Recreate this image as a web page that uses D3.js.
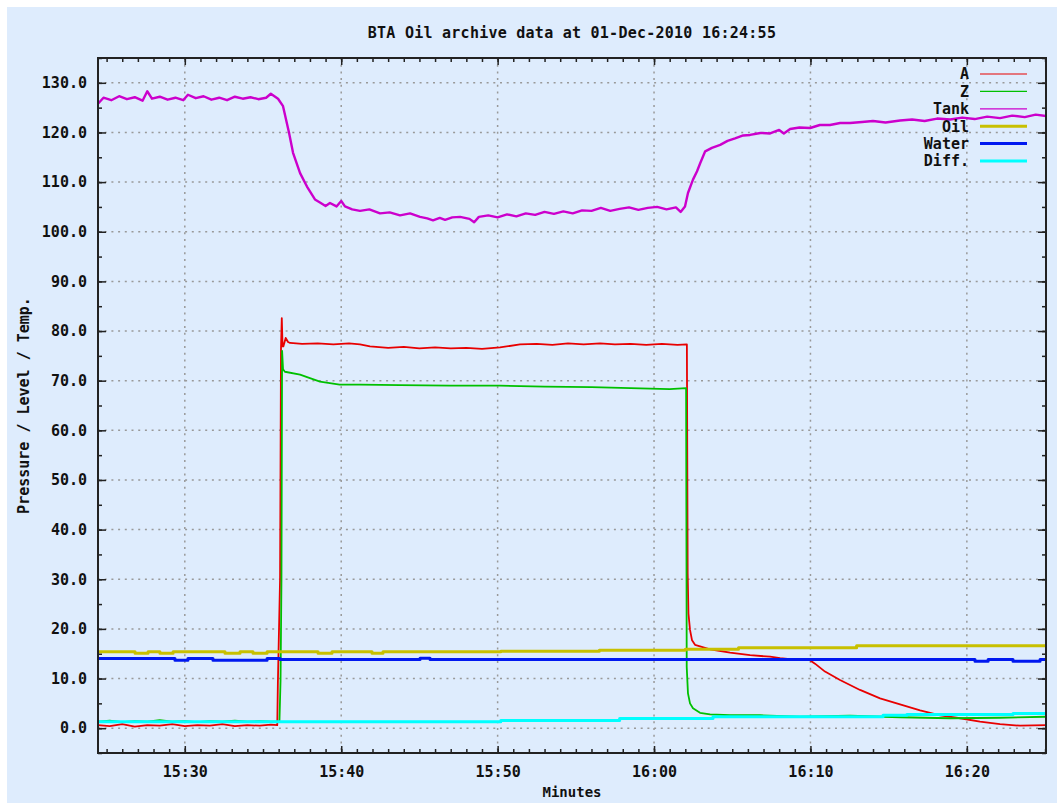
<!DOCTYPE html>
<html>
<head>
<meta charset="utf-8">
<script src="https://cdn.jsdelivr.net/npm/d3@7"></script>
<style>
  body { margin: 0; background: #fff; }
  text { font-family: "DejaVu Sans Mono", monospace; font-weight: bold; font-size: 15px; fill: #111; }
</style>
</head>
<body>
<div id="chart"></div>
<script>
// time is minutes after 15:00 on 01-Dec-2010
const timeRange = [24.45, 85.06]
const yTicks = [0, 10, 20, 30, 40, 50, 60, 70, 80, 90, 100, 110, 120, 130]

const seriesA = [[24.45,0.6],[25.2,0.4],[26.0,0.8],[26.8,0.3],[27.6,0.6],[28.4,0.5],[29.2,0.8],[30.0,0.4],[30.8,0.6],[31.6,0.5],[32.4,0.8],[33.2,0.4],[34.0,0.6],[34.8,0.5],[35.5,0.7],[35.91,0.6],[35.95,9.0],[36.09,30.0],[36.15,76.5],[36.2,82.6],[36.25,76.9],[36.3,76.9],[36.45,78.6],[36.6,77.8],[36.73,77.6],[37.5,77.4],[38.5,77.5],[39.5,77.3],[40.5,77.5],[41.2,77.3],[41.84,76.9],[43.0,76.6],[44.0,76.8],[45.0,76.5],[46.0,76.7],[47.0,76.5],[48.0,76.6],[49.0,76.4],[50.15,76.7],[51.43,77.3],[52.5,77.4],[53.5,77.2],[54.5,77.5],[55.5,77.3],[56.55,77.5],[57.5,77.3],[58.5,77.4],[59.5,77.2],[60.5,77.4],[61.5,77.2],[62.1,77.3],[62.15,31.2],[62.2,23.1],[62.3,19.8],[62.43,17.7],[62.62,16.8],[62.94,16.5],[63.58,15.9],[64.86,15.2],[66.14,14.7],[67.42,14.4],[68.06,14.1],[69.33,13.7],[69.97,13.7],[70.29,13.0],[70.93,11.4],[71.89,9.7],[73.17,7.7],[74.45,6.0],[75.73,4.8],[77.01,3.6],[78.29,2.6],[79.57,2.0],[80.84,1.3],[82.12,0.8],[83.4,0.5],[85.06,0.6]]

const seriesZ = [[24.45,1.3],[25.2,1.5],[26.0,1.2],[26.8,1.4],[27.6,1.3],[28.4,1.6],[29.2,1.3],[30.0,1.4],[30.8,1.2],[31.6,1.4],[32.4,1.3],[33.2,1.5],[34.0,1.3],[34.8,1.4],[35.5,1.3],[36.05,1.3],[36.12,9.5],[36.18,30.0],[36.22,76.0],[36.28,72.3],[36.4,71.8],[37.37,71.2],[38.0,70.5],[38.64,69.8],[39.9,69.2],[41.2,69.2],[43.76,69.1],[46.96,69.0],[50.15,69.0],[53.0,68.8],[56.0,68.7],[58.5,68.5],[61.0,68.3],[62.05,68.5],[62.09,12.3],[62.17,7.0],[62.3,5.0],[62.49,4.0],[62.94,3.1],[63.58,2.8],[64.86,2.6],[66.78,2.6],[69.33,2.3],[72.53,2.5],[75.73,2.2],[78.93,2.0],[82.12,2.1],[85.06,2.3]]

const seriesTank = [[24.45,125.8],[24.8,127.0],[25.3,126.5],[25.8,127.3],[26.3,126.7],[26.8,127.1],[27.3,126.4],[27.6,128.3],[27.9,126.8],[28.4,127.2],[28.9,126.6],[29.4,127.0],[29.9,126.5],[30.2,127.6],[30.7,126.9],[31.2,127.3],[31.7,126.6],[32.2,127.0],[32.7,126.5],[33.2,127.2],[33.7,126.8],[34.2,127.1],[34.7,126.7],[35.2,127.0],[35.5,127.8],[35.96,126.8],[36.28,125.3],[36.66,120.0],[36.92,115.9],[37.37,111.8],[37.81,109.1],[38.32,106.5],[38.64,105.9],[39.0,105.2],[39.28,105.8],[39.7,105.1],[40.0,106.2],[40.24,105.1],[40.7,104.5],[41.2,104.2],[41.8,104.5],[42.48,103.7],[43.1,103.9],[43.76,103.3],[44.4,103.7],[45.04,103.0],[45.5,102.7],[45.87,102.3],[46.3,102.8],[46.64,102.4],[47.1,102.9],[47.6,103.0],[48.2,102.6],[48.5,101.9],[48.8,103.0],[49.4,103.3],[50.0,102.9],[50.6,103.5],[51.2,103.1],[51.8,103.7],[52.4,103.4],[53.0,104.0],[53.6,103.6],[54.2,104.1],[54.8,103.7],[55.4,104.3],[56.0,104.2],[56.6,104.8],[57.2,104.2],[57.8,104.6],[58.4,104.9],[59.0,104.4],[59.6,104.8],[60.2,105.0],[60.8,104.5],[61.4,104.9],[61.7,104.0],[61.98,105.1],[62.17,107.8],[62.49,110.5],[62.75,112.2],[62.95,113.8],[63.27,116.2],[63.7,116.9],[64.23,117.5],[64.7,118.3],[65.18,118.8],[65.7,119.4],[66.14,119.5],[66.8,119.9],[67.42,119.8],[68.0,120.5],[68.3,119.8],[68.7,120.7],[69.3,121.0],[69.98,120.9],[70.6,121.5],[71.25,121.5],[71.9,121.9],[72.53,121.9],[73.3,122.1],[74.0,122.3],[74.8,122.0],[75.73,122.4],[76.5,122.6],[77.3,122.3],[78.1,122.8],[78.93,122.6],[79.7,123.0],[80.5,122.7],[81.3,123.2],[82.12,122.9],[82.9,123.4],[83.7,123.1],[84.4,123.6],[85.06,123.3]]

const seriesOil = [[24.45,15.4],[26.82,15.1],[27.65,15.4],[28.41,15.1],[29.25,15.4],[32.57,15.1],[33.53,15.4],[34.36,15.1],[35.26,15.4],[38.52,15.1],[39.41,15.4],[41.97,15.1],[42.67,15.4],[50.2,15.5],[56.5,15.7],[62.0,15.9],[65.4,16.2],[72.95,16.6],[85.06,16.6]]

const seriesWater = [[24.45,14.05],[29.37,13.7],[30.2,14.05],[31.8,13.7],[35.26,14.05],[36.09,13.85],[45.04,14.1],[45.68,13.85],[80.52,13.5],[81.36,13.85],[82.95,13.5],[84.68,13.85],[85.06,13.85]]

const seriesDiff = [[24.45,1.3],[50.2,1.55],[57.8,1.95],[63.77,2.3],[74.64,2.6],[76.16,2.75],[82.95,2.95],[85.06,2.95]]

const seriesNames = ['A', 'Z', 'Tank', 'Oil', 'Water', 'Diff.']

async function draw() {
  const series = [
    { name: seriesNames[0], data: seriesA, color: '#e80000', width: 1.8, step: false },
    { name: seriesNames[1], data: seriesZ, color: '#00c000', width: 1.8, step: false },
    { name: seriesNames[2], data: seriesTank, color: '#cc00cc', width: 2.4, step: false },
    { name: seriesNames[3], data: seriesOil, color: '#c8c000', width: 3, step: true },
    { name: seriesNames[4], data: seriesWater, color: '#0018f0', width: 3, step: true },
    { name: seriesNames[5], data: seriesDiff, color: '#00ffff', width: 3, step: true }
  ]

  //set dimensions
  let dimensions = {
    width: 1057,
    height: 803,
    left: 98,
    right: 1046,
    top: 58,
    bottom: 753
  }

  const base = new Date(2010, 11, 1, 15, 0, 0)
  const toDate = (m) => new Date(base.getTime() + m * 60000)

  const svg = d3.select('#chart')
    .append('svg')
    .attr('width', dimensions.width)
    .attr('height', dimensions.height)

  //background with white margin on top and left
  svg.append('rect')
    .attr('x', 7).attr('y', 7)
    .attr('width', dimensions.width - 7)
    .attr('height', dimensions.height - 7)
    .attr('fill', '#deecfd')

  //scales
  const xScale = d3.scaleTime()
    .domain(timeRange.map(toDate))
    .range([dimensions.left, dimensions.right])

  const yScale = d3.scaleLinear()
    .domain([-5, 135])
    .range([dimensions.bottom, dimensions.top])

  const majorX = xScale.ticks(d3.timeMinute.every(10))
  const minorX = xScale.ticks(d3.timeMinute.every(1))
  const minorY = d3.range(-5, 136, 5)

  //grid
  const grid = svg.append('g')
    .attr('stroke', '#999')
    .attr('stroke-width', 1.5)
    .attr('stroke-dasharray', '2,4.7')

  grid.selectAll('.gy')
    .data(yTicks)
    .join('line')
    .attr('x1', dimensions.left)
    .attr('x2', dimensions.right)
    .attr('y1', d => yScale(d))
    .attr('y2', d => yScale(d))

  grid.selectAll('.gx')
    .data(majorX)
    .join('line')
    .attr('x1', d => xScale(d))
    .attr('x2', d => xScale(d))
    .attr('y1', dimensions.top)
    .attr('y2', dimensions.bottom)

  //axes, ticks pointing inward on all four sides
  const axisStyle = (g) => {
    g.select('.domain').remove()
    g.selectAll('line').attr('stroke', '#222').attr('stroke-width', 1.5)
  }

  svg.append('g')
    .attr('transform', `translate(0,${dimensions.bottom})`)
    .call(d3.axisBottom(xScale).tickValues(minorX).tickSize(-4).tickFormat(''))
    .call(axisStyle)

  svg.append('g')
    .attr('transform', `translate(0,${dimensions.bottom})`)
    .call(d3.axisBottom(xScale).tickValues(majorX).tickSize(-7).tickPadding(13)
      .tickFormat(d3.timeFormat('%H:%M')))
    .call(axisStyle)

  svg.append('g')
    .attr('transform', `translate(0,${dimensions.top})`)
    .call(d3.axisTop(xScale).tickValues(minorX).tickSize(-4).tickFormat(''))
    .call(axisStyle)

  svg.append('g')
    .attr('transform', `translate(0,${dimensions.top})`)
    .call(d3.axisTop(xScale).tickValues(majorX).tickSize(-7).tickFormat(''))
    .call(axisStyle)

  svg.append('g')
    .attr('transform', `translate(${dimensions.left},0)`)
    .call(d3.axisLeft(yScale).tickValues(minorY).tickSize(-4).tickFormat(''))
    .call(axisStyle)

  svg.append('g')
    .attr('transform', `translate(${dimensions.left},0)`)
    .call(d3.axisLeft(yScale).tickValues(yTicks).tickSize(-8).tickPadding(11)
      .tickFormat(d3.format('.1f')))
    .call(axisStyle)

  svg.append('g')
    .attr('transform', `translate(${dimensions.right},0)`)
    .call(d3.axisRight(yScale).tickValues(minorY).tickSize(-4).tickFormat(''))
    .call(axisStyle)

  svg.append('g')
    .attr('transform', `translate(${dimensions.right},0)`)
    .call(d3.axisRight(yScale).tickValues(yTicks).tickSize(-8).tickFormat(''))
    .call(axisStyle)

  svg.selectAll('.tick text')
    .attr('fill', '#111')
    .style('font-family', '"DejaVu Sans Mono", monospace')
    .style('font-size', '15px')
    .style('font-weight', 'bold')

  //clip
  svg.append('clipPath').attr('id', 'clip')
    .append('rect')
    .attr('x', dimensions.left)
    .attr('y', dimensions.top)
    .attr('width', dimensions.right - dimensions.left)
    .attr('height', dimensions.bottom - dimensions.top)

  //draw series
  const linesGroup = svg.append('g').attr('clip-path', 'url(#clip)')

  series.forEach(s => {
    const line = d3.line()
      .x(d => xScale(toDate(d[0])))
      .y(d => yScale(d[1]))
      .curve(s.step ? d3.curveStepAfter : d3.curveLinear)

    linesGroup.append('path')
      .datum(s.data)
      .attr('fill', 'none')
      .attr('stroke', s.color)
      .attr('stroke-width', s.width)
      .attr('stroke-linejoin', 'round')
      .attr('d', line)
  })

  //border
  svg.append('rect')
    .attr('x', dimensions.left)
    .attr('y', dimensions.top)
    .attr('width', dimensions.right - dimensions.left)
    .attr('height', dimensions.bottom - dimensions.top)
    .attr('fill', 'none')
    .attr('stroke', '#222')
    .attr('stroke-width', 2)

  //legend
  const legend = svg.append('g')
  const legendY = (i) => 74 + i * 17.4

  legend.selectAll('text')
    .data(series)
    .join('text')
    .attr('x', 969)
    .attr('y', (d, i) => legendY(i))
    .attr('dy', '0.36em')
    .attr('text-anchor', 'end')
    .text(d => d.name)

  legend.selectAll('line')
    .data(series)
    .join('line')
    .attr('x1', 980)
    .attr('x2', 1027)
    .attr('y1', (d, i) => legendY(i))
    .attr('y2', (d, i) => legendY(i))
    .attr('stroke', d => d.color)
    .attr('stroke-width', d => d.step ? 3 : 1.2)

  //title and axis labels
  svg.append('text')
    .attr('x', 572)
    .attr('y', 38)
    .attr('text-anchor', 'middle')
    .style('letter-spacing', '0.25px')
    .text('BTA Oil archive data at 01-Dec-2010 16:24:55')

  svg.append('text')
    .attr('x', 572)
    .attr('y', 797)
    .attr('text-anchor', 'middle')
    .style('font-size', '14px')
    .text('Minutes')

  svg.append('text')
    .attr('transform', `translate(29,${(dimensions.top + dimensions.bottom) / 2}) rotate(-90)`)
    .attr('text-anchor', 'middle')
    .text('Pressure / Level / Temp.')
}

draw()
</script>
</body>
</html>
